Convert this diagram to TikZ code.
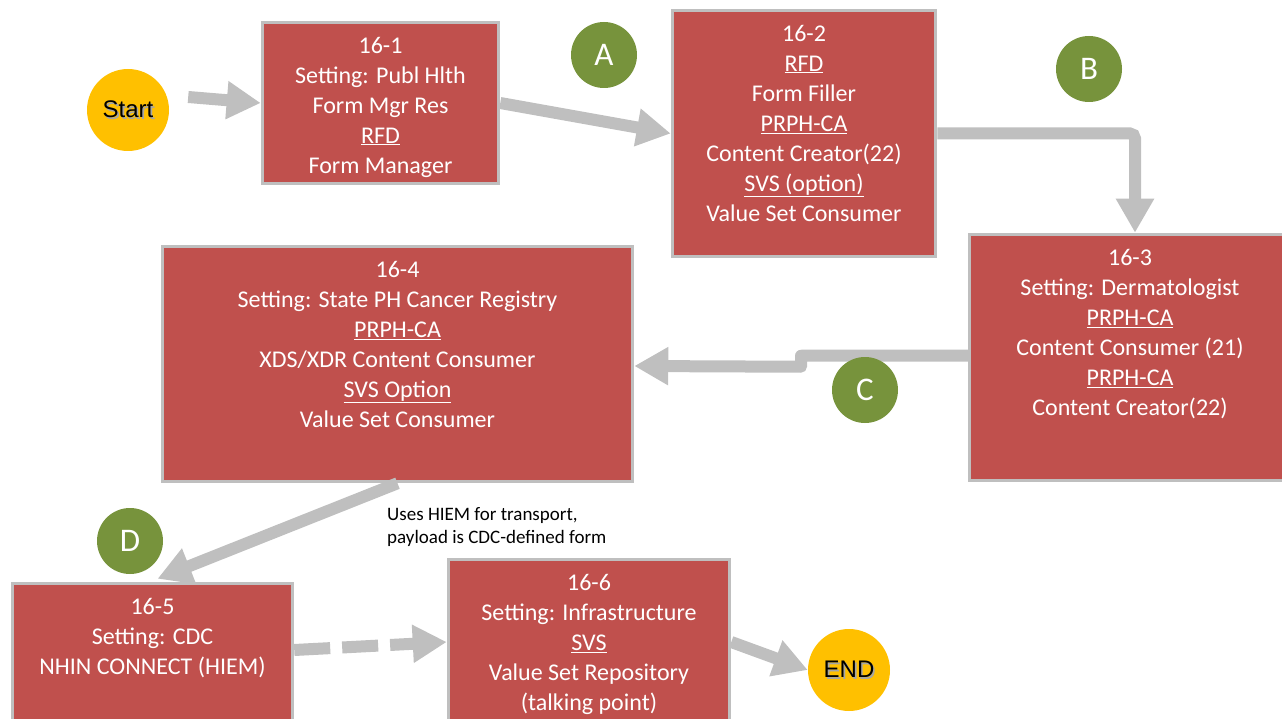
\documentclass[tikz,border=0pt]{standalone}
\usepackage{fontspec}
\setmainfont{Carlito}
\newfontfamily\arialfont{Liberation Sans}
\usetikzlibrary{arrows.meta}
\usetikzlibrary{calc}
\usetikzlibrary{positioning}
\definecolor{boxred}{HTML}{C0504D}
\definecolor{flowgray}{HTML}{BFBFBF}
\definecolor{stepgreen}{HTML}{77933C}
\definecolor{endyellow}{HTML}{FFC000}
\newcommand{\shadowtext}[1]{\makebox[0pt][l]{\hspace{1.6pt}\raisebox{-1.6pt}{\textcolor{black!35}{#1}}}#1}
\tikzset{
	boxstyle/.style={rectangle,draw=flowgray,line width=3.5pt,fill=boxred},
	textstyle/.style={align=center,text=white,inner sep=0pt,font=\fontsize{24}{30}\selectfont},
	letterstyle/.style={circle,fill=stepgreen,text=white,minimum size=66pt,inner sep=0pt,font=\fontsize{33}{33}\selectfont},
	endstyle/.style={circle,fill=endyellow,minimum size=82pt,inner sep=0pt,font=\arialfont\fontsize{24}{24}\selectfont},
	flowstyle/.style={draw=flowgray,line width=12pt,-{Triangle[width=36pt,length=34pt]}},
	notestyle/.style={align=left,inner sep=0pt,font=\fontsize{19}{23}\selectfont}
}
\begin{document}
\begin{tikzpicture}[x=1pt,y=-1pt]
	\useasboundingbox (0,0) rectangle (1282,719);
	\node[boxstyle,minimum width=236,minimum height=161] (s1) at (380.5,103) {};
	\node[boxstyle,minimum width=263,minimum height=246] (s2) at (804,133.5) {};
	\node[boxstyle,minimum width=321,minimum height=246] (s3) at (1130,357.5) {};
	\node[boxstyle,minimum width=470,minimum height=235] (s4) at (397.5,364) {};
	\node[boxstyle,minimum width=280,minimum height=141] (s5) at (152.5,654) {};
	\node[boxstyle,minimum width=281,minimum height=165] (s6) at (589,642) {};
	\node[textstyle,below=16pt of s1.north] (t1) {16-1\\Setting: Publ Hlth\\Form Mgr Res\\\underline{RFD}\\Form Manager};
	\node[textstyle,below=16pt of s2.north] (t2) {16-2\\\underline{RFD}\\Form Filler\\\underline{PRPH-CA}\\Content Creator(22)\\\underline{SVS (option)}\\Value Set Consumer};
	\node[textstyle,below=16pt of s3.north] (t3) {16-3\\Setting: Dermatologist\\\underline{PRPH-CA}\\Content Consumer (21)\\\underline{PRPH-CA}\\Content Creator(22)};
	\node[textstyle,below=16pt of s4.north] (t4) {16-4\\Setting: State PH Cancer Registry\\\underline{PRPH-CA}\\XDS/XDR Content Consumer\\\underline{SVS Option}\\Value Set Consumer};
	\node[textstyle,below=16pt of s5.north] (t5) {16-5\\Setting: CDC\\NHIN CONNECT (HIEM)};
	\node[textstyle,below=16pt of s6.north] (t6) {16-6\\Setting: Infrastructure\\\underline{SVS}\\Value Set Repository\\(talking point)};
	\node[endstyle] (start) at (128,110) {\shadowtext{Start}};
	\node[endstyle] (end) at (849,670) {\shadowtext{END}};
	\node[notestyle,anchor=north west] (note) at (387,507) {Uses HIEM for transport,\\payload is CDC-defined form};
	\coordinate (cbend) at ($(s3.west)!0.5!(s4.east)$);
	\draw[flowstyle] ($(start.east)+(19,-13)$)--(s1.west);
	\draw[flowstyle] (s1.east)--(s2.west);
	\draw[flowstyle,rounded corners=5pt] (s2.east) -| ($(s3.north)+(5,0)$);
	\draw[flowstyle,line join=round] ($(s3.west)+(0,-2)$) -- ($(cbend)+(0,-5)$) -- ($(cbend)+(0,6)$) -- ($(s4.east)+(0,2)$);
	\draw[flowstyle] (s4.south)--($(s5.north)+(5,-3)$);
	\draw[flowstyle,dash pattern=on 36pt off 12pt] ($(s5.east)+(0,-4)$)--(s6.west);
	\draw[flowstyle] (s6.east)--(end.west);
	\node[letterstyle] (a) at (604,55) {A};
	\node[letterstyle] (b) at (1089,69) {B};
	\node[letterstyle] (c) at (865,390) {C};
	\node[letterstyle] (d) at (130,541) {D};
\end{tikzpicture}
\end{document}
